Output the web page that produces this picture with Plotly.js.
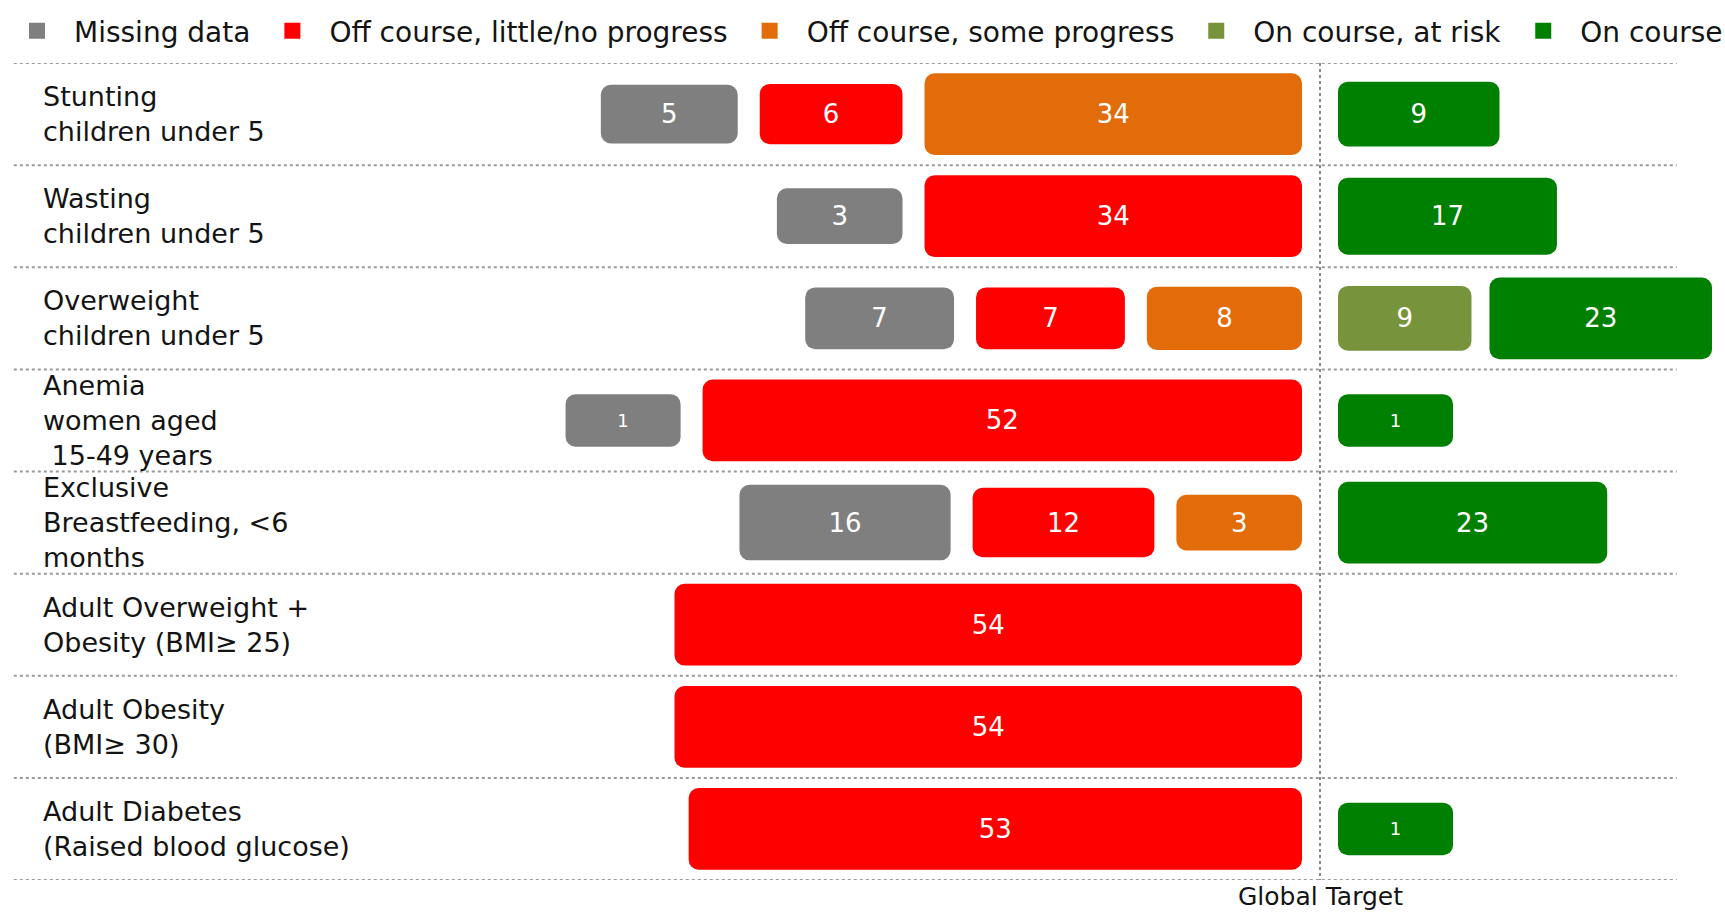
<!DOCTYPE html>
<html><head><meta charset="utf-8">
<script src="https://cdn.plot.ly/plotly-3.0.1.min.js"></script>
<style>html,body{margin:0;padding:0;background:#fff}#chart{width:1725px;height:914px}</style>
</head><body><div id="chart"></div>
<script>
// ---- data ----
const rowLabels = [
  "Stunting<br>children under 5",
  "Wasting<br>children under 5",
  "Overweight<br>children under 5",
  "Anemia<br>women aged<br> 15-49 years",
  "Exclusive<br>Breastfeeding, &lt;6<br>months",
  "Adult Overweight +<br>Obesity (BMI≥ 25)",
  "Adult Obesity<br>(BMI≥ 30)",
  "Adult Diabetes<br>(Raised blood glucose)"
];
const statusNames = ["Missing data", "Off course, little/no progress", "Off course, some progress", "On course, at risk", "On course"];
const statusColors = ["#7F7F7F", "#FF0000", "#E36C0A", "#77933C", "#008000"];
const missingData     = [5, 3, 7, 1, 16, null, null, null];
const offCourseLittle = [6, 34, 7, 52, 12, 54, 54, 53];
const offCourseSome   = [34, null, 8, null, 3, null, null, null];
const onCourseAtRisk  = [null, null, 9, null, null, null, null, null];
const onCourse        = [9, 17, 23, 1, 23, null, null, 1];
const targetLabel = "Global Target";

// ---- layout computation ----
const series = [missingData, offCourseLittle, offCourseSome, onCourseAtRisk, onCourse];
const X_MIN = -1320, X_MAX = 405;
const GAP_L = 22, GAP_R = 18, T_GAP = 18, RIGHT_LIMIT = 392;
function boxLen(v){ return 110 + 4.95*v + 0.0858*v*v; }
function boxThick(v){ return Math.min(0.8, 0.5 + 0.015*v); }
const bases = series.map(()=>[]), lens = series.map(()=>[]);
rowLabels.forEach((_, r) => {
  let pos = -T_GAP;
  [2,1,0].forEach(s => {
    const v = series[s][r]; if (v == null) return;
    const L = boxLen(v); bases[s][r] = pos - L; lens[s][r] = L; pos = pos - L - GAP_L;
  });
  const items = [3,4].filter(s => series[s][r] != null);
  const total = items.reduce((a,s)=>a+boxLen(series[s][r]),0);
  const avail = RIGHT_LIMIT - T_GAP - GAP_R*Math.max(0, items.length-1);
  const k = total > avail ? avail/total : 1;
  let p = T_GAP;
  items.forEach(s => { const L = boxLen(series[s][r])*k; bases[s][r] = p; lens[s][r] = L; p += L + GAP_R; });
});

const FONT = "DejaVu Sans";
const traces = series.map((vals, s) => {
  const ys=[], xs=[], bs=[], ws=[], ts=[], fs=[];
  vals.forEach((v, r) => {
    if (v == null) return;
    ys.push(r); xs.push(lens[s][r]); bs.push(bases[s][r]); ws.push(boxThick(v));
    ts.push(String(v)); fs.push(v < 3 ? 18 : 26);
  });
  return {
    type: 'bar', orientation: 'h', name: statusNames[s],
    y: ys, x: xs, base: bs, width: ws, text: ts,
    textposition: 'inside', insidetextanchor: 'middle', textangle: 0, constraintext: 'none',
    textfont: {color: '#ffffff', size: fs, family: FONT},
    marker: {color: statusColors[s], cornerradius: 10, line: {width: 0}},
    hoverinfo: 'skip', showlegend: false
  };
});
statusNames.forEach((n, s) => {
  traces.push({type:'scatter', mode:'markers', x:[null], y:[null], name:n,
    marker:{symbol:'square', size:16, color:statusColors[s]}, hoverinfo:'skip', showlegend:true});
});

const shapes = [];
for (let r = 0; r <= rowLabels.length; r++) {
  shapes.push({type:'line', xref:'paper', yref:'y', x0:0.008, x1:0.972, y0:r-0.5, y1:r-0.5,
    line:{color:'#9a9a9a', width:2, dash:'dot'}, layer:'below'});
}
shapes.push({type:'line', xref:'x', yref:'y', x0:0, x1:0, y0:-0.5, y1:rowLabels.length-0.5,
  line:{color:'#888888', width:2, dash:'dot'}, layer:'below'});

const annotations = rowLabels.map((t, r) => ({
  xref:'paper', yref:'y', x:0.024, y:r, xanchor:'left', yanchor:'middle', align:'left',
  text:t, showarrow:false, font:{family:FONT, size:27, color:'#141414'}
}));
annotations.push({xref:'x', yref:'paper', x:0, y:-0.0196, xanchor:'center', yanchor:'middle',
  text:targetLabel, showarrow:false, font:{family:FONT, size:25, color:'#141414'}});

const layout = {
  width:1725, height:914,
  margin:{l:0, r:0, t:63, b:34},
  paper_bgcolor:'#fff', plot_bgcolor:'#fff',
  barmode:'overlay',
  xaxis:{range:[X_MIN, X_MAX], visible:false, fixedrange:true},
  yaxis:{range:[rowLabels.length-0.5, -0.5], visible:false, fixedrange:true},
  showlegend:true,
  legend:{orientation:'h', x:0.0, xanchor:'left', y:1.039, yanchor:'middle',
    font:{family:FONT, size:28, color:'#141414'}, itemwidth:64, bgcolor:'rgba(0,0,0,0)'},
  shapes, annotations
};
Plotly.newPlot('chart', traces, layout, {displayModeBar:false, staticPlot:true});
</script></body></html>
